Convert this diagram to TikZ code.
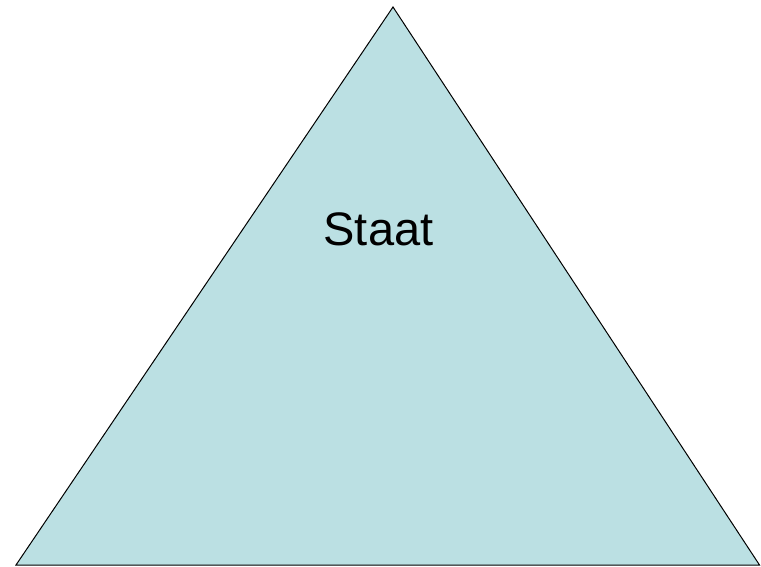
\documentclass[tikz,border=0pt]{standalone}
\usepackage{fontspec}
\setmainfont{Liberation Sans}
\definecolor{tri}{HTML}{BBE0E3}
\begin{document}
\begin{tikzpicture}[x=1pt,y=-1pt]
\useasboundingbox (0,0) rectangle (761,567);
\coordinate (A) at (393,7);
\coordinate (B) at (16,565);
\coordinate (C) at (759.5,565);
\draw[fill=tri,line width=1pt,line join=miter] (A) -- (B) -- (C) -- cycle;
\node[anchor=base,inner sep=0pt,font=\fontsize{47}{56}\selectfont] (t) at (378.5,245) {Staat};
\end{tikzpicture}
\end{document}
